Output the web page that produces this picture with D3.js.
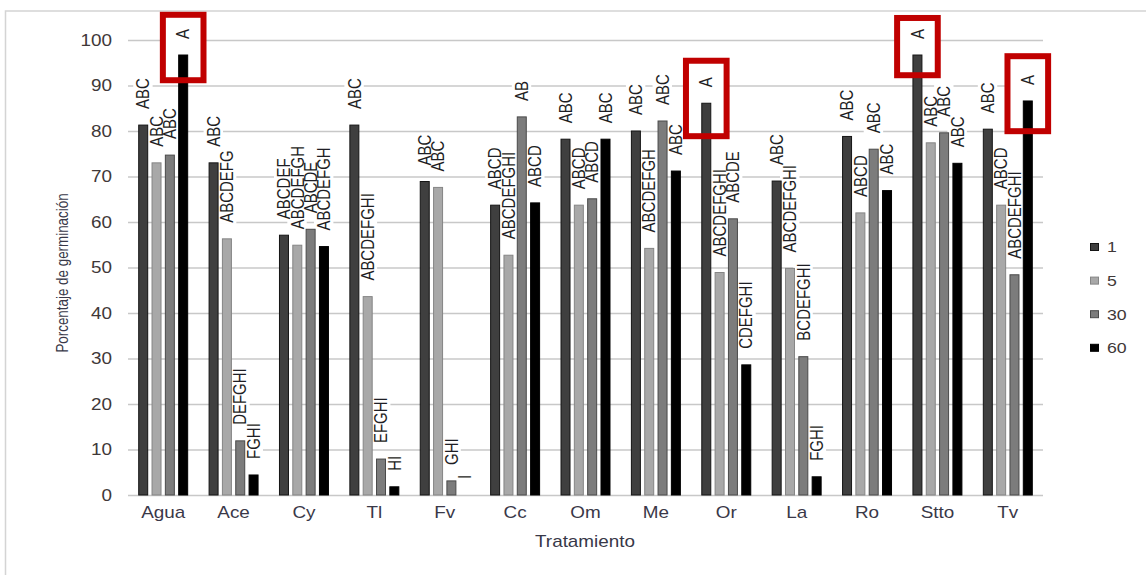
<!DOCTYPE html>
<html>
<head>
<meta charset="utf-8">
<script src="https://cdn.jsdelivr.net/npm/d3@7"></script>
<style>
  html, body { margin: 0; padding: 0; background: #fff; }
  svg { display: block; font-family: "Liberation Sans", Arial, sans-serif; }
</style>
</head>
<body>
<svg id="chart" width="1146" height="575"></svg>
<script>
// Treatments (x axis)
const categories = ["Agua", "Ace", "Cy", "Tl", "Fv", "Cc", "Om", "Me", "Or", "La", "Ro", "Stto", "Tv"];
// Exposure time series (legend)
const seriesNames = ["1", "5", "30", "60"];

// Germination percentage per treatment, one array per series
const values1  = [81.3, 73.0, 57.1, 81.3, 68.9, 63.7, 78.2, 80.0, 86.1, 69.0, 78.8, 96.7, 80.4];
const values5  = [73.0, 56.3, 54.9, 43.6, 67.6, 52.7, 63.7, 54.2, 48.9, 49.8, 62.0, 77.4, 63.7];
const values30 = [74.7, 11.9, 58.4, 7.9, 3.1, 83.1, 65.1, 82.2, 60.7, 30.4, 76.0, 79.6, 48.4];
const values60 = [96.7, 4.4, 54.6, 1.8, 0.0, 64.2, 78.2, 71.2, 28.6, 4.0, 66.9, 72.9, 86.6];

// Significance letters above each bar
const letters1  = ["ABC", "ABC", "ABCDEF", "ABC", "ABC", "ABCD", "ABC", "ABC", "A", "ABC", "ABC", "A", "ABC"];
const letters5  = ["ABC", "ABCDEFG", "ABCDEFGH", "ABCDEFGHI", "ABC", "ABCDEFGHI", "ABCD", "ABCDEFGH", "ABCDEFGHI", "ABCDEFGHI", "ABCD", "ABC", "ABCD"];
const letters30 = ["ABC", "DEFGHI", "ABCDE", "EFGHI", "GHI", "AB", "ABCD", "ABC", "ABCDE", "BCDEFGHI", "ABC", "ABC", "ABCDEFGHI"];
const letters60 = ["A", "FGHI", "ABCDEFGH", "HI", "I", "ABCD", "ABC", "ABC", "CDEFGHI", "FGHI", "ABC", "ABC", "A"];

// Y axis ticks
const yTicks = [0, 10, 20, 30, 40, 50, 60, 70, 80, 90, 100];

// Highlighted bars (red frames), vertical extent in axis units
const highlightCategory = ["Agua", "Or", "Stto", "Tv"];
const highlightSeries   = ["60", "1", "1", "60"];
const highlightTop      = [106.2, 96.1, 105.5, 97.1];
const highlightBottom   = [90.5, 78.2, 91.6, 79.3];

const seriesValues  = [values1, values5, values30, values60];
const seriesLetters = [letters1, letters5, letters30, letters60];
const fills   = ["#3f3f3f", "#a8a8a8", "#7c7c7c", "#000000"];
const strokes = ["#151515", "#858585", "#4a4a4a", "#000000"];
const stretch = 1.18;

const rows = categories.map((c, i) => ({
  category: c,
  bars: seriesNames.map((s, j) => ({ category: c, series: s, si: j, value: seriesValues[j][i], label: seriesLetters[j][i] }))
}));

const svg = d3.select("#chart");

const x0 = d3.scaleBand().domain(categories).range([128, 1043]).paddingInner(0.29).paddingOuter(0.145);
const x1 = d3.scaleBand().domain(seriesNames).range([0, x0.bandwidth()]).paddingInner(0.25);
const y = d3.scaleLinear().domain([0, 100]).range([495, 40]);

// Outer frame
svg.append("rect")
  .attr("x", 5.5).attr("y", 11).attr("width", 1300).attr("height", 800)
  .attr("fill", "none").attr("stroke", "#d4d4d4").attr("stroke-width", 1.5);

// Gridlines + y tick labels
const yAxis = svg.append("g")
  .attr("transform", "translate(128,0)")
  .call(d3.axisLeft(y).tickValues(yTicks).tickSize(-(1043 - 128)).tickPadding(16).tickFormat(d3.format("d")));
yAxis.select(".domain").remove();
yAxis.selectAll(".tick line").attr("stroke", "#c8c8c8").attr("stroke-width", 1.5);
yAxis.selectAll(".tick text")
  .attr("x", null)
  .attr("transform", `translate(-16,0) scale(${stretch},1)`)
  .attr("fill", "#403838").attr("font-size", 16)
  .attr("font-family", "Liberation Sans, Arial, sans-serif");

// Category labels
const xAxis = svg.append("g")
  .attr("transform", "translate(0,495)")
  .call(d3.axisBottom(x0).tickSize(0).tickPadding(11.6));
xAxis.select(".domain").remove();
xAxis.selectAll(".tick text")
  .attr("transform", `scale(${stretch},1)`)
  .attr("fill", "#3a3848").attr("font-size", 16)
  .attr("font-family", "Liberation Sans, Arial, sans-serif");

// White backing of highlight frames
const hl = highlightCategory.map((c, i) => {
  const cx = x0(c) + x1(highlightSeries[i]) + x1.bandwidth() / 2;
  const w = x1.step() * 3.5;
  return { x: cx - w / 2, y: y(highlightTop[i]), w: w, h: y(highlightBottom[i]) - y(highlightTop[i]) };
});
const sw = 6;
svg.append("g").selectAll("rect").data(hl).join("rect")
  .attr("x", d => d.x + sw / 2).attr("y", d => d.y + sw / 2)
  .attr("width", d => d.w - sw).attr("height", d => d.h - sw)
  .attr("fill", "#fff");

// Label backings sit under the bars, hiding only the gridlines
const labelBg = svg.append("g");

// Bars
const groups = svg.append("g").selectAll("g").data(rows).join("g")
  .attr("transform", d => `translate(${x0(d.category)},0)`);
groups.selectAll("rect").data(d => d.bars).join("rect")
  .attr("x", d => x1(d.series) + 0.5)
  .attr("y", d => y(d.value))
  .attr("width", x1.bandwidth() - 1)
  .attr("height", d => Math.max(0, y(0) - y(d.value)))
  .attr("fill", d => fills[d.si])
  .attr("stroke", d => strokes[d.si])
  .attr("stroke-width", 1);

// Letter labels (rotated)
const allBars = rows.flatMap(r => r.bars);
const labelG = svg.append("g");
const labelTransform = d => {
  const cx = x0(d.category) + x1(d.series) + x1.bandwidth() / 2;
  return `translate(${cx},${y(d.value) - 16}) scale(${stretch},1) rotate(-90)`;
};
const labels = labelG.selectAll("text").data(allBars).join("text")
  .attr("transform", labelTransform)
  .attr("dy", "0.35em")
  .attr("font-size", 15)
  .attr("fill", "#1e1e24")
  .text(d => d.label);
labels.each(function(d) {
  const b = this.getBBox();
  labelBg.append("rect")
    .attr("transform", labelTransform(d))
    .attr("x", b.x - 1).attr("y", b.y).attr("width", b.width + 2).attr("height", b.height)
    .attr("fill", "#fff");
});

// Red highlight frames
svg.append("g").selectAll("rect").data(hl).join("rect")
  .attr("x", d => d.x + sw / 2).attr("y", d => d.y + sw / 2)
  .attr("width", d => d.w - sw).attr("height", d => d.h - sw)
  .attr("fill", "none").attr("stroke", "#c00000").attr("stroke-width", sw);

// Axis titles
svg.append("text")
  .attr("transform", `translate(585,546.5) scale(${stretch},1)`)
  .attr("text-anchor", "middle").attr("font-size", 16).attr("fill", "#383848")
  .text("Tratamiento");
svg.append("text")
  .attr("transform", `translate(62,273) scale(${stretch},1) rotate(-90)`)
  .attr("text-anchor", "middle").attr("dy", "0.35em").attr("font-size", 13.4).attr("fill", "#383848")
  .text("Porcentaje de germinación");

// Legend
const legend = svg.append("g").selectAll("g").data(seriesNames).join("g")
  .attr("transform", (d, i) => `translate(1090,${247 + i * 33.6})`);
legend.append("rect")
  .attr("x", 0.5).attr("y", -3.5).attr("width", 8).attr("height", 7)
  .attr("fill", (d, i) => fills[i]).attr("stroke", (d, i) => strokes[i]).attr("stroke-width", 1);
legend.append("text")
  .attr("transform", `translate(17,0) scale(${stretch},1)`)
  .attr("dy", "0.36em").attr("font-size", 15).attr("fill", "#403838")
  .text(d => d);
</script>
</body>
</html>
